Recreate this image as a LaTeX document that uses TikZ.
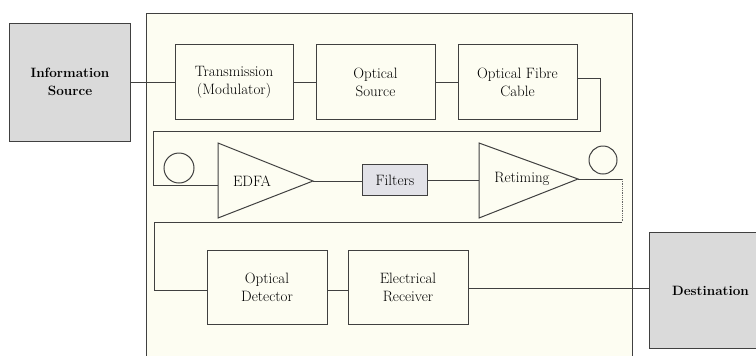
\documentclass[tikz,border=0pt]{standalone}
\usepackage{fontspec}
\begin{document}
\begin{tikzpicture}[x=1bp,y=-1bp,
  ln/.style={draw=black!75, line width=1bp},
  blk/.style={ln, rectangle, fill=panel, align=center, inner sep=0pt, font=\fontsize{15bp}{18bp}\selectfont},
  ext/.style={blk, fill=extgray, font=\bfseries\fontsize{13.5bp}{18bp}\selectfont},
  lbl/.style={inner sep=0pt, align=center, font=\fontsize{15bp}{18bp}\selectfont}]
\definecolor{panel}{HTML}{FDFDF2}
\definecolor{extgray}{HTML}{DADADA}
\definecolor{filtgray}{HTML}{E2E2E8}
\useasboundingbox (0,0) rectangle (756,355);
\clip (0,0) rectangle (756,355);
\fill[white] (0,0) rectangle (756,355);
% panel
\draw[ln, fill=panel] (146,13) rectangle (632,370);
% external blocks
\node[ext, minimum width=120bp, minimum height=118bp] (info) at (70,82) {Information\\Source};
\node[ext, minimum width=122bp, minimum height=116bp, anchor=north west] (dest) at (649,232) {Destination};
% top row
\node[blk, minimum width=118bp, minimum height=75bp] (trans) at (234,82) {Transmission\\(Modulator)};
\node[blk, minimum width=119bp, minimum height=75bp] (osrc) at (375.5,82) {Optical\\Source};
\node[blk, minimum width=119bp, minimum height=75bp] (fibre) at (517.5,82) {Optical Fibre\\Cable};
% middle row
\coordinate (e1) at (218,143);
\coordinate (e2) at (218,218);
\coordinate (etip) at (313,181);
\draw[ln, fill=panel] (e1) -- (etip) -- (e2) -- cycle;
\node[lbl] (edfa) at (252,181) {EDFA};
\node[blk, fill=filtgray, minimum width=65bp, minimum height=31bp] (filt) at (395,180) {Filters};
\coordinate (r1) at (479,143);
\coordinate (r2) at (479,218);
\coordinate (rtip) at (578,179);
\draw[ln, fill=panel] (r1) -- (rtip) -- (r2) -- cycle;
\node[lbl] (retime) at (522,179) {Retiming};
\node[ln, circle, minimum size=30bp, inner sep=0pt] (cl) at (179,168) {};
\node[ln, circle, minimum size=28bp, inner sep=0pt] (cr) at (603,160) {};
% bottom row
\node[blk, minimum width=120bp, minimum height=74bp] (det) at (267,287) {Optical\\Detector};
\node[blk, minimum width=120bp, minimum height=74bp] (rec) at (408,287) {Electrical\\Receiver};
% connectors
\coordinate (l1) at (600,131);
\coordinate (l2) at (153,131);
\coordinate (l3) at (153,185);
\coordinate (m1) at (622,179);
\coordinate (m2) at (622,222);
\coordinate (m3) at (154,222);
\coordinate (m4) at (154,290);
\draw[ln] (info.east) -- (trans.west);
\draw[ln] (trans.east) -- (osrc.west);
\draw[ln] (osrc.east) -- (fibre.west);
\draw[ln] (fibre.east |- 0,78) -| (l1) -- (l2) -- (l3) -- (l3 -| e1);
\draw[ln] (etip) -- (filt.west |- etip);
\draw[ln] (filt.east) -- (r1 |- filt.east);
\draw[ln] (rtip) -- (m1);
\draw[draw=black!60, line width=0.8bp, densely dotted] (m1) -- (m2);
\draw[ln] (m2) -- (m3) -- (m4) -- (det.west |- m4);
\draw[ln] (det.east |- m4) -- (rec.west |- m4);
\draw[ln] (rec.east |- 0,288) -- (dest.west |- 0,288);
\end{tikzpicture}
\end{document}
